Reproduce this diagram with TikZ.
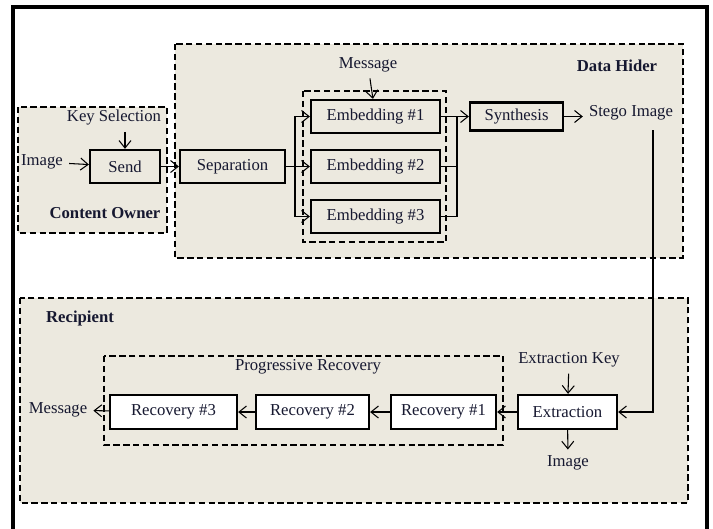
\documentclass[tikz,border=0pt]{standalone}
\usepackage{fontspec}
\setmainfont{Liberation Serif}
\usetikzlibrary{arrows.meta}
\definecolor{regionbg}{RGB}{236,233,223}
\definecolor{inkblue}{RGB}{22,24,48}

\begin{document}
\begin{tikzpicture}[x=0.02cm, y=-0.02cm,
  font=\fontsize{9.5}{11}\selectfont, text=inkblue,
  region/.style={draw, fill=regionbg, dash pattern=on 3.6pt off 2pt, line width=0.75pt},
  subregion/.style={draw, dash pattern=on 3.6pt off 2pt, line width=0.6pt},
  block/.style={draw, line width=1.3pt, minimum height=0.66cm, inner sep=1pt},
  arr/.style={-{Straight Barb[length=1.5mm, width=2.4mm]}, line width=0.6pt},
  link/.style={line width=0.6pt}
]
\useasboundingbox (0,0) rectangle (713,528);
\draw[line width=1.8pt] (13,530) -- (13,7) -- (707,7) -- (707,530);

% regions
\draw[region] (175,44) rectangle (683,258);
\draw[region] (18,107) rectangle (167,233);
\draw[region] (20,298) rectangle (688,503);
\draw[subregion] (303,91) rectangle (446,242);
\draw[subregion] (104,356) rectangle (503,445);

% content owner
\node (keysel) at (114,118) {Key Selection};
\node (imgin) at (42,162) {Image};
\node[block, minimum width=1.4cm] (send) at (125,166.5) {Send};
\node[font=\fontsize{9.5}{11}\selectfont\bfseries] (owner) at (105,213) {Content Owner};

% data hider
\node[font=\fontsize{9.5}{11}\selectfont\bfseries] (hider) at (617,66) {Data Hider};
\node (msgin) at (368,65) {Message};
\node[block, minimum width=2.1cm] (sep) at (232.5,166.5) {Separation};
\node[block, minimum width=2.58cm] (emb1) at (375.5,116.5) {Embedding \#1};
\node[block, minimum width=2.58cm] (emb2) at (375.5,166.5) {Embedding \#2};
\node[block, minimum width=2.58cm] (emb3) at (375.5,216.5) {Embedding \#3};
\node[block, minimum width=1.86cm, minimum height=0.56cm] (synth) at (516.5,116.5) {Synthesis};
\node (stego) at (631,113) {Stego Image};
\coordinate (split) at (295,166.5);
\coordinate (merge) at (457,116.5);
\coordinate (down) at (653,130);

% recipient
\node[font=\fontsize{9.5}{11}\selectfont\bfseries] (recip) at (80,318) {Recipient};
\node (prog) at (308,367) {Progressive Recovery};
\node[block, fill=white, minimum width=1.98cm, minimum height=0.68cm] (extract) at (567.5,412) {Extraction};
\node[block, fill=white, minimum width=2.1cm, minimum height=0.68cm] (rec1) at (443.5,412) {Recovery \#1};
\node[block, fill=white, minimum width=2.26cm, minimum height=0.68cm] (rec2) at (312.5,412) {Recovery \#2};
\node[block, fill=white, minimum width=2.54cm, minimum height=0.68cm] (rec3) at (173.5,412) {Recovery \#3};
\node (extkey) at (569,360) {Extraction Key};
\node (imgout) at (568,463) {Image};
\node (msgout) at (58,410) {Message};

% connectors
\draw[arr] (keysel.south -| send.north) -- (send.north);
\draw[arr] (imgin) -- (send);
\draw[arr] (send) -- (sep);
\draw[arr] (sep) -- (emb2);
\draw[arr] (split) |- (emb1);
\draw[arr] (split) |- (emb3);
\draw[arr] (msgin) -- (emb1);
\draw[link] (emb2) -| (merge);
\draw[link] (emb3) -| (merge);
\draw[arr] (emb1) -- (synth);
\draw[arr] (synth) -- (synth -| stego.west);
\draw[arr] (down) |- (extract);
\draw[arr] (extkey) -- (extract);
\draw[arr] (extract) -- (imgout);
\draw[arr] (extract) -- (rec1);
\draw[arr] (rec1) -- (rec2);
\draw[arr] (rec2) -- (rec3);
\draw[arr] (rec3) -- (msgout);
\end{tikzpicture}
\end{document}
